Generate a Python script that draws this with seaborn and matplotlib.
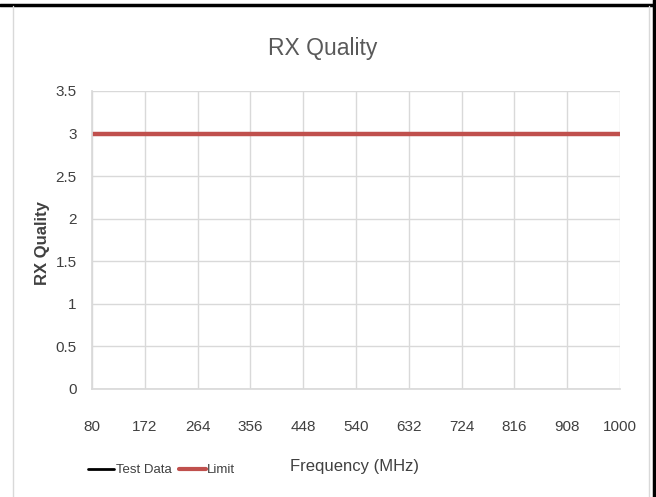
import matplotlib
matplotlib.use("Agg")
import matplotlib.pyplot as plt
import seaborn as sns
import pandas as pd
from matplotlib.lines import Line2D

freq_ticks = [80, 172, 264, 356, 448, 540, 632, 724, 816, 908, 1000]
y_ticks = [0, 0.5, 1, 1.5, 2, 2.5, 3, 3.5]
y_tick_labels = ["0", "0.5", "1", "1.5", "2", "2.5", "3", "3.5"]
limit_freq = [80, 1000]
limit_values = [3, 3]
test_freq = []
test_values = []

sns.set_theme(style="white")
plt.rcParams["font.family"] = ["Liberation Sans", "DejaVu Sans"]

fig = plt.figure(figsize=(6.56, 4.97), dpi=100)
ax = fig.add_axes([92/656, 1 - 389/497, (620-92)/656, (389-91)/497])

limit_df = pd.DataFrame({"Frequency": limit_freq, "RX": limit_values})
test_df = pd.DataFrame({"Frequency": pd.Series(test_freq, dtype=float),
                        "RX": pd.Series(test_values, dtype=float)})
if len(test_df):
    sns.lineplot(data=test_df, x="Frequency", y="RX", ax=ax, color="black", lw=2)
sns.lineplot(data=limit_df, x="Frequency", y="RX", ax=ax, color="#C0504D", lw=3.2)

ax.set_xlim(80, 1000)
ax.set_ylim(0, 3.5)
ax.set_xticks(freq_ticks)
ax.set_xticklabels([str(v) for v in freq_ticks], fontsize=11, color="#404040")
ax.set_yticks(y_ticks)
ax.set_yticklabels(y_tick_labels, fontsize=11, color="#404040")
ax.tick_params(axis="x", length=0, pad=22)
ax.tick_params(axis="y", length=0, pad=11)
ax.grid(True, color="#D9D9D9", lw=1)
for s in ["top", "right"]:
    ax.spines[s].set_visible(False)
ax.spines["left"].set_color("#D9D9D9")
ax.spines["bottom"].set_color("#D9D9D9")
ax.set_xlabel("")
ax.set_ylabel("")
fig.text(43/656, 1 - 243/497, "RX Quality", ha="center", va="center", rotation=90,
         fontsize=12, fontweight="bold", color="#404040")

fig.text(323/656, 1 - 48/497, "RX Quality", ha="center", va="center",
         fontsize=16.5, color="#595959")
fig.text(355/656, 1 - 467/497, "Frequency (MHz)", ha="center", va="center",
         fontsize=12, color="#404040")

handles = [Line2D([], [], color="black", lw=2), Line2D([], [], color="#C0504D", lw=3)]
fig.legend(handles, ["Test Data", "Limit"], loc="center left",
           bbox_to_anchor=(76/656, 1 - 470/497), ncol=2, frameon=False,
           prop={"size": 9.5}, handlelength=2.0,
           handletextpad=0.1, columnspacing=0.6, labelcolor="#404040")

# outer frame
fig.add_artist(Line2D([0, 1], [1 - 4.5/497, 1 - 4.5/497], color="black", lw=2.5, transform=fig.transFigure))
fig.add_artist(Line2D([653.5/656, 653.5/656], [0, 1], color="black", lw=2.5, transform=fig.transFigure))
fig.add_artist(Line2D([12.5/656, 12.5/656], [0, 1 - 6/497], color="#D9D9D9", lw=1, transform=fig.transFigure))
fig.add_artist(Line2D([648.5/656, 648.5/656], [0, 1 - 6/497], color="#D9D9D9", lw=1, transform=fig.transFigure))

fig.savefig("out.png", dpi=100)
